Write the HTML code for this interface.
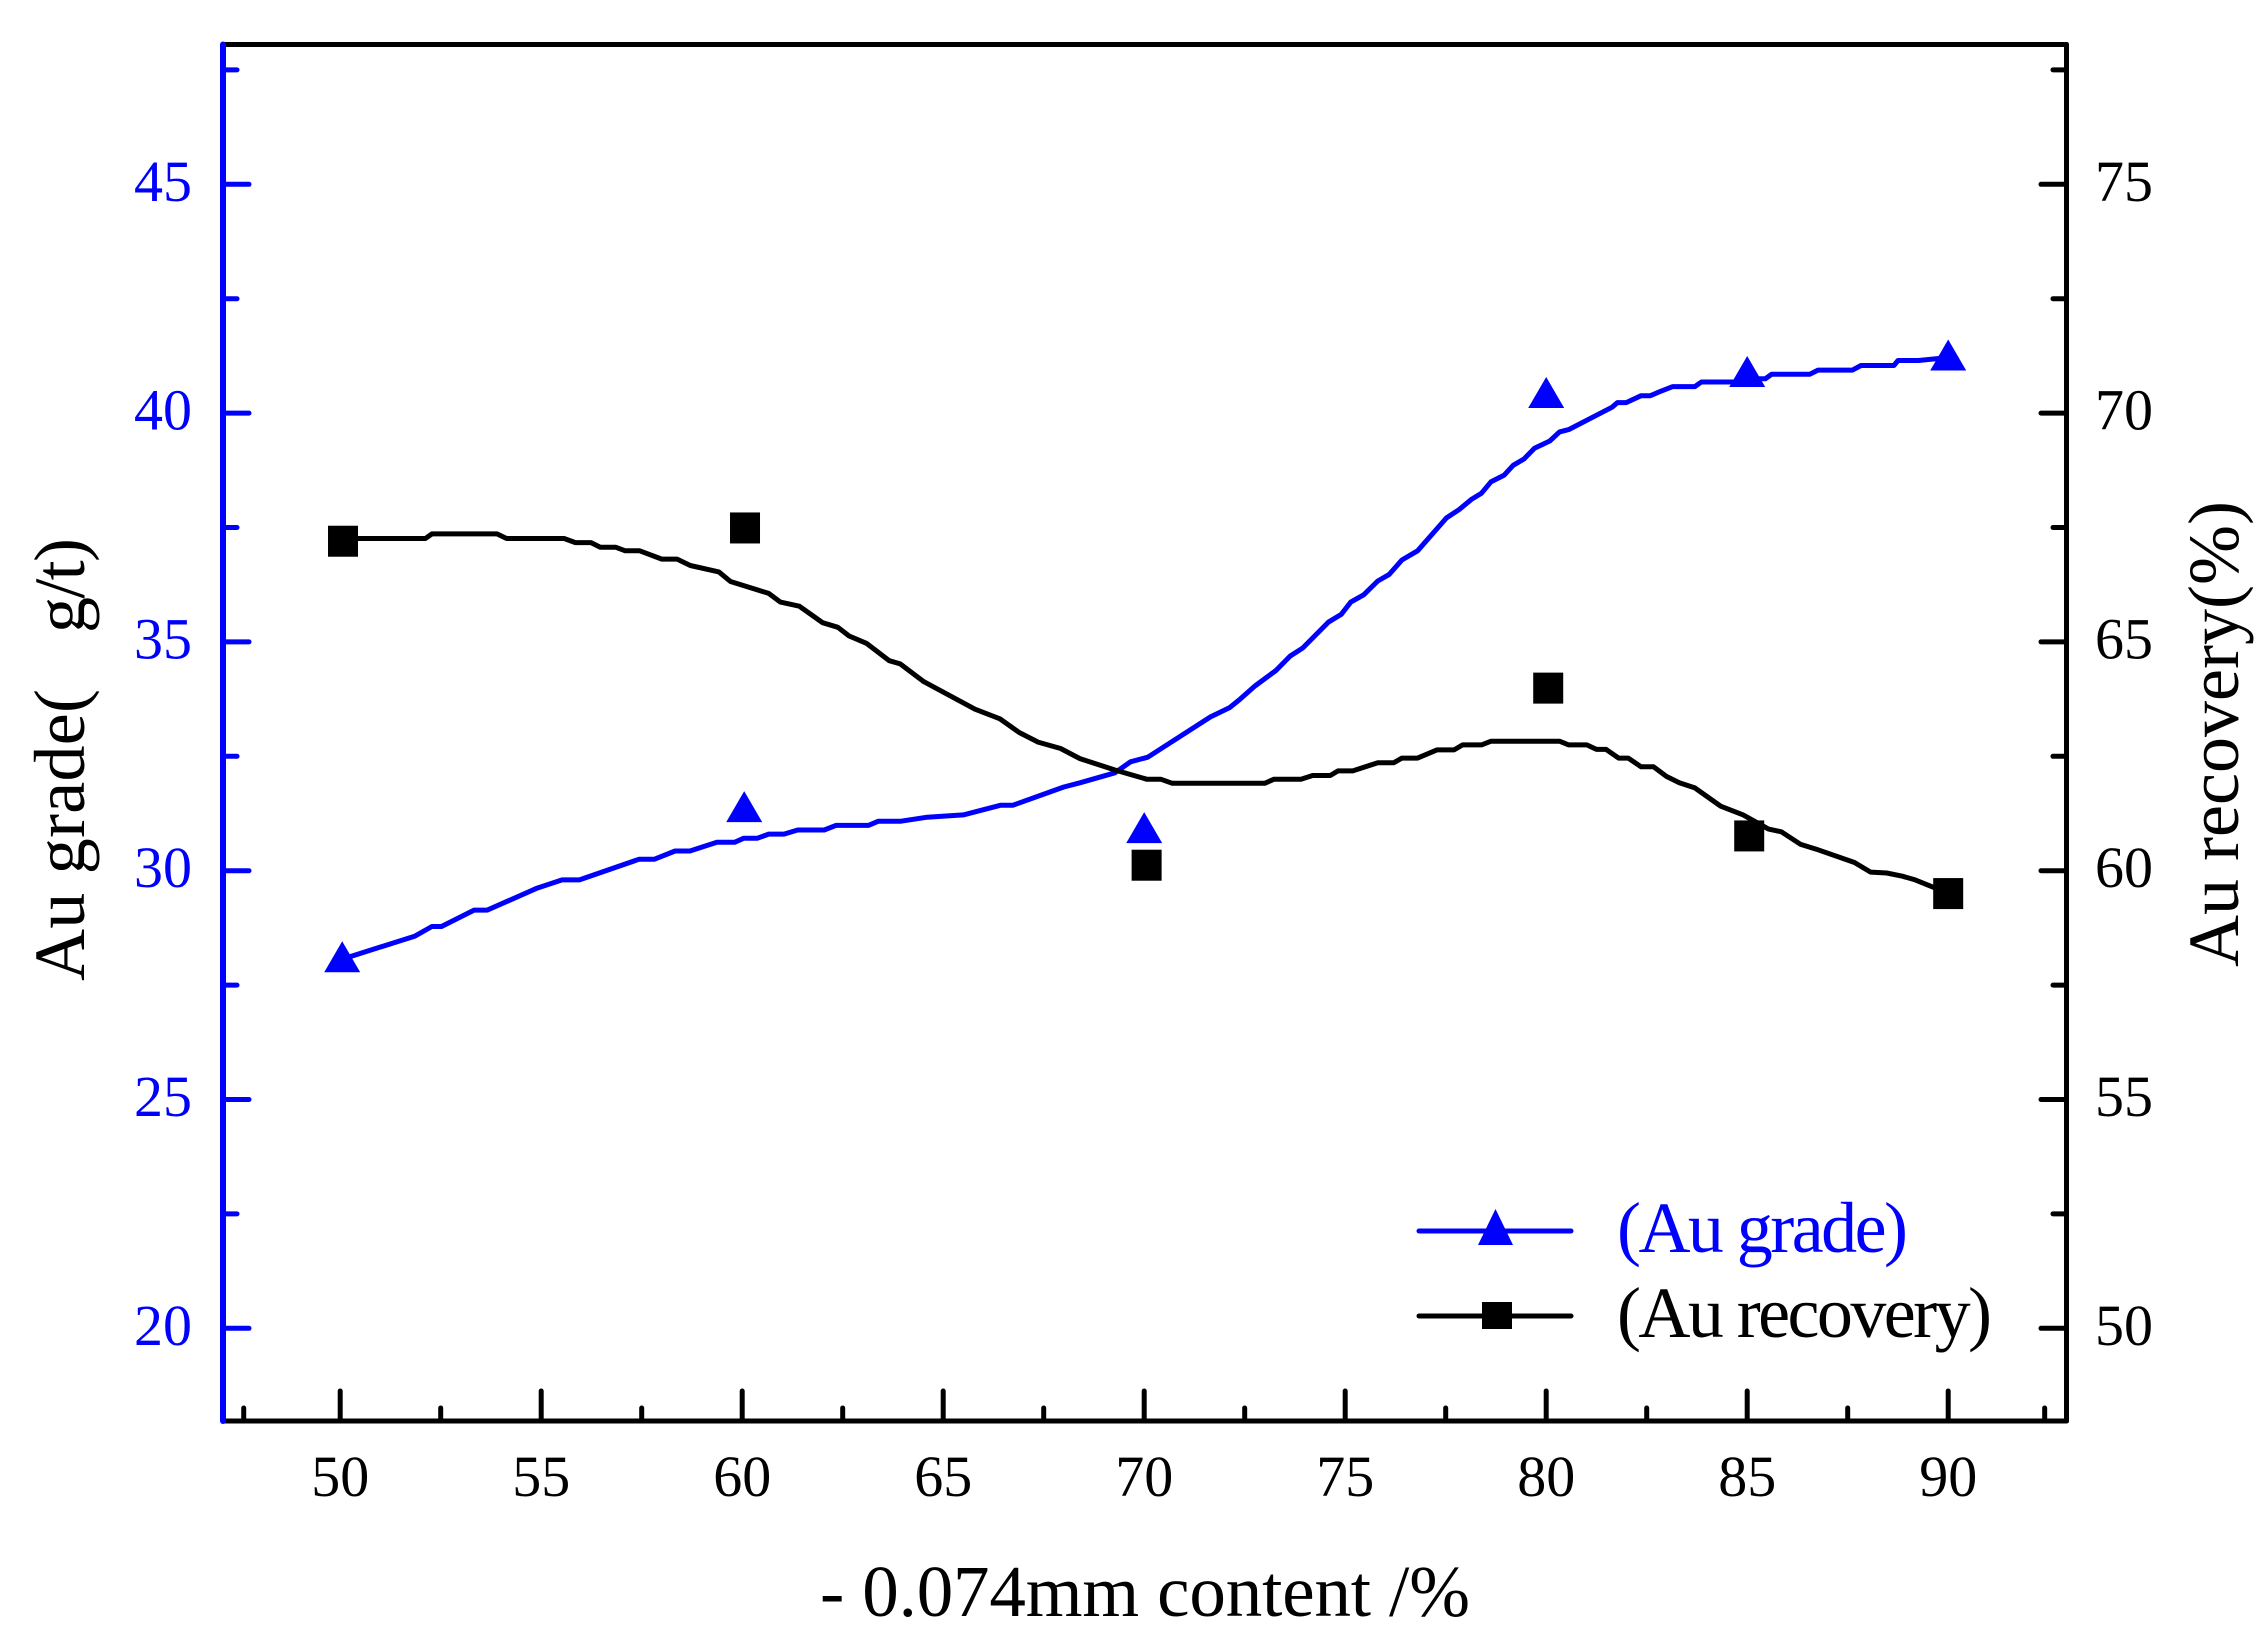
<!DOCTYPE html>
<html lang="en">
<head>
<meta charset="utf-8">
<title>Au grade and recovery vs -0.074mm content</title>
<style>
html,body{margin:0;padding:0;background:#fff;}
svg{display:block;}
text{font-family:"Liberation Serif",serif;}
</style>
</head>
<body>
<svg id="chart" xmlns="http://www.w3.org/2000/svg" width="2264" height="1652" viewBox="0 0 2264 1652">
  <rect x="0" y="0" width="2264" height="1652" fill="#fff"/>
  <g id="series-layer"></g>
  <g id="axes-layer"></g>
  <text x="820" y="1616" font-size="73" textLength="650" fill="#000">- 0.074mm content /%</text>
  <text transform="translate(84,981) rotate(-90)" font-size="72" textLength="292" fill="#000">Au grade(</text>
  <text transform="translate(84,633) rotate(-90)" font-size="72" textLength="95" fill="#000">g/t)</text>
  <text transform="translate(2238,967) rotate(-90)" font-size="72" textLength="466" fill="#000">Au recovery(%)</text>
  <g>
    <g>
      <line x1="1419" y1="1231" x2="1571" y2="1231" stroke="#0000ff" stroke-width="5" stroke-linecap="round"/>
      <polygon points="1495.5,1209 1513,1245 1478,1245" fill="#0000ff"/>
      <text x="1617" y="1252" font-size="72" textLength="291" fill="#0000ff">(Au grade)</text>
    </g>
    <g>
      <line x1="1419" y1="1316" x2="1571" y2="1316" stroke="#000" stroke-width="5" stroke-linecap="round"/>
      <rect x="1482" y="1302" width="30" height="27" fill="#000"/>
      <text x="1617" y="1337" font-size="72" textLength="375" fill="#000">(Au recovery)</text>
    </g>
  </g>
</svg>
<script>
// Axis tick values
const xMajorTicks = [50, 55, 60, 65, 70, 75, 80, 85, 90];
const xMinorTicks = [47.6, 52.5, 57.5, 62.5, 67.5, 72.5, 77.5, 82.5, 87.5, 92.4];
const gradeMajorTicks = [20, 25, 30, 35, 40, 45];
const gradeMinorTicks = [22.5, 27.5, 32.5, 37.5, 42.5, 47.5];
const recoveryMajorTicks = [50, 55, 60, 65, 70, 75];
const recoveryMinorTicks = [52.5, 57.5, 62.5, 67.5, 72.5, 77.5];

// Measured points
const gradeSampleContent = [50.05, 60.05, 70, 80, 85, 90];
const gradeSamples = [28.12, 31.4, 30.94, 40.45, 40.91, 41.27];
const recoverySampleContent = [50.07, 60.07, 70.06, 80.05, 85.05, 90];
const recoverySamples = [67.2, 67.49, 60.12, 63.99, 60.76, 59.5];

// Fitted curve for Au grade
const gradeCurveContent = [50,50.24,51.86,52.28,52.52,53.33,53.66,54.9,55.52,55.95,57.43,57.81,58.33,58.7,59.37,59.81,60.04,60.38,60.66,61.04,61.38,62.04,62.33,63.14,63.38,63.93,64.6,65.5,66.42,66.73,68,68.4,69.27,69.66,70.09,71.65,72.12,72.36,72.76,73.27,73.63,73.95,74.58,74.9,75.14,75.46,75.81,76.09,76.41,76.8,77.52,77.83,78.15,78.39,78.63,78.95,79.18,79.45,79.71,80.09,80.33,80.56,81.64,81.77,81.99,82.36,82.59,82.83,83.15,83.7,83.86,84.66,84.97,85.45,85.61,86.56,86.76,87.62,87.83,88.65,88.75,89.26,89.73,90];
const gradeCurveValues = [28.07,28.12,28.57,28.78,28.78,29.14,29.14,29.62,29.8,29.8,30.25,30.25,30.43,30.43,30.62,30.62,30.71,30.71,30.8,30.8,30.89,30.89,30.99,30.99,31.08,31.08,31.17,31.22,31.43,31.43,31.83,31.92,32.14,32.38,32.48,33.36,33.56,33.73,34.04,34.37,34.69,34.87,35.43,35.6,35.87,36.03,36.33,36.47,36.79,36.99,37.71,37.89,38.12,38.25,38.5,38.64,38.86,39,39.23,39.39,39.59,39.64,40.13,40.23,40.23,40.38,40.38,40.47,40.58,40.58,40.68,40.68,40.75,40.75,40.85,40.85,40.94,40.94,41.04,41.04,41.15,41.15,41.19,41.22];

// Fitted curve for Au recovery
const recoveryCurveContent = [50,52.12,52.28,53.9,54.14,55.57,55.85,56.24,56.47,56.85,57.09,57.45,58,58.38,58.71,59.42,59.71,60.66,60.95,61.42,62,62.38,62.66,63.09,63.66,63.93,64.52,65.79,66.41,66.89,67.36,67.92,68.4,69.27,70.06,70.41,70.7,73,73.23,73.9,74.19,74.63,74.82,75.19,75.81,76.21,76.41,76.8,77.28,77.71,77.92,78.39,78.63,80.33,80.56,81.01,81.25,81.49,81.8,82.04,82.36,82.67,82.99,83.31,83.7,84.34,84.9,85.53,85.85,86.32,86.72,87.67,88.07,88.47,88.86,89.18,89.65,90];
const recoveryCurveValues = [67.26,67.26,67.36,67.36,67.26,67.26,67.17,67.17,67.07,67.07,66.99,66.99,66.81,66.81,66.67,66.53,66.32,66.06,65.87,65.78,65.42,65.32,65.13,64.97,64.59,64.52,64.13,63.53,63.32,63.02,62.81,62.67,62.45,62.2,62,62,61.91,61.91,62,62,62.08,62.08,62.18,62.18,62.36,62.36,62.46,62.46,62.64,62.64,62.75,62.75,62.83,62.83,62.75,62.75,62.65,62.65,62.46,62.46,62.27,62.27,62.06,61.92,61.81,61.41,61.22,60.91,60.85,60.58,60.47,60.18,59.97,59.95,59.88,59.8,59.63,59.5];

const NS = 'http://www.w3.org/2000/svg';
const seriesLayer = document.getElementById('series-layer');
const axesLayer = document.getElementById('axes-layer');
const BLUE = '#0000ff';
const BLACK = '#000000';

const plotLeft = 223, plotRight = 2066.5, plotTop = 44.5, plotBottom = 1421;

function xScale(v) { return 340.2 + (v - 50) * 40.2; }
function gradeScale(v) { return 1328.3 - (v - 20) * 45.76; }
function recoveryScale(v) { return 1328.3 - (v - 50) * 45.76; }

function drawLine(parent, x1, y1, x2, y2, color, width, name) {
  const l = document.createElementNS(NS, 'line');
  l.setAttribute('x1', x1);
  l.setAttribute('y1', y1);
  l.setAttribute('x2', x2);
  l.setAttribute('y2', y2);
  l.setAttribute('stroke', color);
  l.setAttribute('stroke-width', width);
  l.setAttribute('stroke-linecap', 'round');
  
  
  parent.appendChild(l);
}

function drawText(parent, x, y, str, color, anchor, name) {
  const t = document.createElementNS(NS, 'text');
  t.setAttribute('x', x);
  t.setAttribute('y', y);
  t.setAttribute('font-size', '58');
  t.setAttribute('fill', color);
  t.setAttribute('text-anchor', anchor);
  
  
  t.textContent = str;
  parent.appendChild(t);
}

function drawCurve(xs, ys, scale, color, name) {
  const p = document.createElementNS(NS, 'polyline');
  p.setAttribute('points', xs.map((x, i) => xScale(x).toFixed(1) + ',' + scale(ys[i]).toFixed(1)).join(' '));
  p.setAttribute('fill', 'none');
  p.setAttribute('stroke', color);
  p.setAttribute('stroke-width', '5');
  p.setAttribute('stroke-linejoin', 'round');
  
  
  seriesLayer.appendChild(p);
}

// Curves
drawCurve(gradeCurveContent, gradeCurveValues, gradeScale, BLUE, 'au-grade-curve');
drawCurve(recoveryCurveContent, recoveryCurveValues, recoveryScale, BLACK, 'au-recovery-curve');

// Markers
gradeSampleContent.forEach((c, i) => {
  const cx = xScale(c);
  const cy = gradeScale(gradeSamples[i]);
  const tri = document.createElementNS(NS, 'polygon');
  tri.setAttribute('points', cx + ',' + (cy - 15.5) + ' ' + (cx + 18) + ',' + (cy + 15.5) + ' ' + (cx - 18) + ',' + (cy + 15.5));
  tri.setAttribute('fill', BLUE);
  
  
  seriesLayer.appendChild(tri);
});
recoverySampleContent.forEach((c, i) => {
  const cx = xScale(c);
  const cy = recoveryScale(recoverySamples[i]);
  const sq = document.createElementNS(NS, 'rect');
  sq.setAttribute('x', cx - 15);
  sq.setAttribute('y', cy - 15.5);
  sq.setAttribute('width', 30);
  sq.setAttribute('height', 31);
  sq.setAttribute('fill', BLACK);
  
  
  seriesLayer.appendChild(sq);
});

// Frame: top, bottom, right in black; left in blue
drawLine(axesLayer, plotLeft, plotTop, plotRight, plotTop, BLACK, 5, 'top-axis-line');
drawLine(axesLayer, plotLeft, plotBottom, plotRight, plotBottom, BLACK, 5, 'x-axis-line');
drawLine(axesLayer, plotRight, plotTop, plotRight, plotBottom, BLACK, 5, 'right-y-axis-line');

// X ticks
xMajorTicks.forEach(v => {
  drawLine(axesLayer, xScale(v), plotBottom, xScale(v), 1391, BLACK, 5, 'x-major-tick');
  drawText(axesLayer, xScale(v), 1496, String(v), BLACK, 'middle', 'x-tick-label');
});
xMinorTicks.forEach(v => {
  drawLine(axesLayer, xScale(v), plotBottom, xScale(v), 1408, BLACK, 5, 'x-minor-tick');
});

// Right ticks
recoveryMajorTicks.forEach(v => {
  drawLine(axesLayer, plotRight, recoveryScale(v), 2041, recoveryScale(v), BLACK, 5, 'right-major-tick');
  drawText(axesLayer, 2095, recoveryScale(v) + 16.5, String(v), BLACK, 'start', 'right-tick-label');
});
recoveryMinorTicks.forEach(v => {
  drawLine(axesLayer, plotRight, recoveryScale(v), 2053, recoveryScale(v), BLACK, 5, 'right-minor-tick');
});

// Left ticks and axis
drawLine(axesLayer, plotLeft, plotTop, plotLeft, plotBottom, BLUE, 6, 'left-y-axis-line');
gradeMajorTicks.forEach(v => {
  drawLine(axesLayer, plotLeft, gradeScale(v), 249, gradeScale(v), BLUE, 5, 'left-major-tick');
  drawText(axesLayer, 192, gradeScale(v) + 16.5, String(v), BLUE, 'end', 'left-tick-label');
});
gradeMinorTicks.forEach(v => {
  drawLine(axesLayer, plotLeft, gradeScale(v), 237, gradeScale(v), BLUE, 5, 'left-minor-tick');
});
</script>
</body>
</html>
